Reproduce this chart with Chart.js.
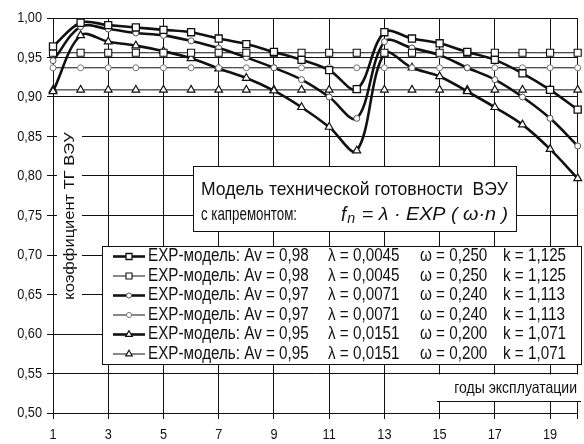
<!DOCTYPE html>
<html>
<head>
<meta charset="utf-8">
<script src="https://cdn.jsdelivr.net/npm/chart.js@4.4.1/dist/chart.umd.min.js"></script>
<style>
  html, body { margin: 0; padding: 0; background: #fff; }
  canvas { display: block; }
</style>
</head>
<body>
<canvas id="chart" width="584" height="444"></canvas>
<script>
// years of operation and axis ticks
const years = [1, 2, 3, 4, 5, 6, 7, 8, 9, 10, 11, 12, 13, 14, 15, 16, 17, 18, 19, 20];
const xTicks = [1, 3, 5, 7, 9, 11, 13, 15, 17, 19];
const yTicks = [0.50, 0.55, 0.60, 0.65, 0.70, 0.75, 0.80, 0.85, 0.90, 0.95, 1.00];

// availability, Av = 0.98 (with overhaul at year 13 / without)
const avSquareRepair = [0.964, 0.994, 0.991, 0.988, 0.985, 0.982, 0.974, 0.967, 0.957, 0.947,
                        0.934, 0.910, 0.982, 0.974, 0.968, 0.957, 0.947, 0.930, 0.909, 0.884];
const avSquareFlat = [0.956, 0.956, 0.956, 0.956, 0.956, 0.956, 0.956, 0.956, 0.956, 0.956,
                      0.956, 0.956, 0.956, 0.956, 0.956, 0.956, 0.956, 0.956, 0.956, 0.956];
// Av = 0.97
const avCircleRepair = [0.946, 0.989, 0.986, 0.981, 0.978, 0.971, 0.962, 0.950, 0.937, 0.922,
                        0.900, 0.873, 0.970, 0.962, 0.953, 0.937, 0.922, 0.900, 0.873, 0.838];
const avCircleFlat = [0.937, 0.937, 0.937, 0.937, 0.937, 0.937, 0.937, 0.937, 0.937, 0.937,
                      0.937, 0.937, 0.937, 0.937, 0.937, 0.937, 0.937, 0.937, 0.937, 0.937];
// Av = 0.95
const avTriangleRepair = [0.907, 0.978, 0.970, 0.965, 0.958, 0.949, 0.936, 0.924, 0.908, 0.887,
                          0.862, 0.832, 0.955, 0.937, 0.926, 0.907, 0.887, 0.865, 0.834, 0.797];
const avTriangleFlat = [0.909, 0.909, 0.909, 0.909, 0.909, 0.909, 0.909, 0.909, 0.909, 0.909,
                        0.909, 0.909, 0.909, 0.909, 0.909, 0.909, 0.909, 0.909, 0.909, 0.909];

// model parameters shown in the legend
const avParams = [0.98, 0.98, 0.97, 0.97, 0.95, 0.95];
const lambdaParams = [0.0045, 0.0045, 0.0071, 0.0071, 0.0151, 0.0151];
const omegaParams = [0.250, 0.250, 0.240, 0.240, 0.200, 0.200];
const kParams = [1.125, 1.125, 1.113, 1.113, 1.071, 1.071];

const FONT = '"Liberation Sans", Arial, sans-serif';
const comma = (v, d) => v.toFixed(d).replace('.', ',');

function toPoints(arr) {
    return arr.map((v, i) => ({ x: years[i], y: v }));
}

// narrow text, like the condensed face of the original plot
function narrowText(ctx, text, x, y, size, sx, align, style) {
    ctx.save();
    ctx.font = (style || '') + ' ' + size + 'px ' + FONT;
    ctx.textBaseline = 'middle';
    ctx.textAlign = align || 'left';
    ctx.fillStyle = '#111';
    const w = ctx.measureText(text).width * sx;
    ctx.translate(x, y);
    ctx.scale(sx, 1);
    ctx.fillText(text, 0, 0);
    ctx.restore();
    return w;
}

function fitText(ctx, text, x, y, size, width, style) {
    ctx.save();
    ctx.font = (style || '') + ' ' + size + 'px ' + FONT;
    const sx = width / ctx.measureText(text).width;
    ctx.restore();
    return narrowText(ctx, text, x, y, size, sx, 'left', style);
}

const styles = [
    { data: avSquareRepair, pointStyle: 'rect', radius: 5, width: 2.6, pbw: 1.3, pborder: '#111' },
    { data: avSquareFlat, pointStyle: 'rect', radius: 5, width: 1, pbw: 1.1, pborder: '#111' },
    { data: avCircleRepair, pointStyle: 'circle', radius: 3, width: 2.6, pbw: 1, pborder: '#555' },
    { data: avCircleFlat, pointStyle: 'circle', radius: 3, width: 1, pbw: 1, pborder: '#777' },
    { data: avTriangleRepair, pointStyle: 'triangle', radius: 4.5, width: 2.6, pbw: 1.2, pborder: '#111' },
    { data: avTriangleFlat, pointStyle: 'triangle', radius: 4.5, width: 1, pbw: 1.1, pborder: '#111' }
];

const datasets = styles.map((s, i) => ({
    label: 'EXP-модель ' + (i + 1),
    data: toPoints(s.data),
    borderColor: '#111',
    borderWidth: s.width,
    tension: 0.35,
    pointStyle: s.pointStyle,
    pointRadius: s.radius,
    pointBorderWidth: s.pbw,
    pointBorderColor: s.pborder,
    pointBackgroundColor: '#fff',
    clip: false
}));

const overlay = {
    id: 'overlay',
    afterDraw(chart) {
        const ctx = chart.ctx;
        const xs = chart.scales.x;
        const ys = chart.scales.y;

        // tick labels
        yTicks.forEach(v => {
            narrowText(ctx, comma(v, 2), 42, ys.getPixelForValue(v), 15, 0.85, 'right');
        });
        xTicks.forEach(v => {
            narrowText(ctx, String(v), xs.getPixelForValue(v), 435, 15, 0.85, 'center');
        });

        // y axis title on a white strip
        ctx.fillStyle = '#fff';
        ctx.fillRect(57, 120, 25, 192);
        ctx.save();
        ctx.translate(70, 216);
        ctx.rotate(-Math.PI / 2);
        ctx.scale(1, 0.9);
        ctx.font = '16.5px ' + FONT;
        ctx.fillStyle = '#111';
        ctx.textAlign = 'center';
        ctx.textBaseline = 'middle';
        ctx.fillText('коэффициент ТГ ВЭУ', 0, 0);
        ctx.restore();

        // x axis title
        ctx.fillStyle = '#fff';
        ctx.fillRect(437, ys.getPixelForValue(0.55) + 1, 144, 27);
        ctx.strokeStyle = '#111';
        ctx.lineWidth = 1;
        ctx.beginPath();
        ctx.moveTo(437, 401.5);
        ctx.lineTo(581, 401.5);
        ctx.stroke();
        narrowText(ctx, 'годы эксплуатации', 577, 388, 16.5, 0.85, 'right');

        // model caption
        ctx.fillStyle = '#fff';
        ctx.fillRect(193.5, 166.5, 323, 65);
        ctx.strokeRect(193.5, 166.5, 323, 65);
        fitText(ctx, 'Модель технической готовности  ВЭУ', 201, 190, 18.5, 307);
        fitText(ctx, 'с капремонтом:', 201, 215, 18.5, 96);
        let fx = 341;
        fx += narrowText(ctx, 'f', fx, 215, 20, 0.95, 'left', 'italic');
        fx += narrowText(ctx, 'n', fx + 1, 219, 15, 0.95, 'left', 'italic') + 2;
        fitText(ctx, ' = λ · EXP ( ω·n )', fx, 215, 19, 508 - fx, 'italic');

        // legend
        ctx.fillStyle = '#fff';
        ctx.fillRect(102.5, 246.5, 479, 118);
        ctx.strokeStyle = '#111';
        ctx.strokeRect(102.5, 246.5, 479, 118);
        datasets.forEach((ds, i) => {
            const y = 256.5 + i * 19.5;
            ctx.strokeStyle = '#111';
            ctx.lineWidth = ds.borderWidth;
            ctx.beginPath();
            ctx.moveTo(113, y);
            ctx.lineTo(145, y);
            ctx.stroke();
            ctx.fillStyle = '#fff';
            ctx.strokeStyle = ds.pointBorderColor;
            ctx.lineWidth = ds.pointBorderWidth;
            Chart.helpers.drawPoint(ctx, {
                pointStyle: ds.pointStyle,
                radius: ds.pointRadius * 0.85,
                rotation: 0,
                borderWidth: ds.pointBorderWidth
            }, 129, y);
            narrowText(ctx, 'EXP-модель: Av = ' + comma(avParams[i], 2), 148, y, 17.5, 0.87);
            narrowText(ctx, 'λ = ' + comma(lambdaParams[i], 4), 328, y, 17.5, 0.87);
            narrowText(ctx, 'ω = ' + comma(omegaParams[i], 3), 420, y, 17.5, 0.87);
            narrowText(ctx, 'k = ' + comma(kParams[i], 3), 503, y, 17.5, 0.87);
        });
    }
};

new Chart(document.getElementById('chart').getContext('2d'), {
    type: 'line',
    data: { datasets },
    options: {
        responsive: false,
        animation: false,
        layout: { padding: { top: 18, right: 3, left: 0, bottom: 0 } },
        plugins: { legend: { display: false }, tooltip: { enabled: false } },
        scales: {
            x: {
                type: 'linear',
                min: 1,
                max: 20,
                afterBuildTicks: scale => {
                    scale.ticks = xTicks.concat([20]).map(v => ({ value: v }));
                },
                afterFit: scale => { scale.height = 31; },
                ticks: { display: false },
                grid: { color: '#111', lineWidth: 1, tickLength: 6 },
                border: { color: '#111', width: 1 }
            },
            y: {
                min: 0.5,
                max: 1.0,
                afterBuildTicks: scale => {
                    scale.ticks = yTicks.map(v => ({ value: v }));
                },
                afterFit: scale => { scale.width = 53; },
                ticks: { display: false },
                grid: { color: '#111', lineWidth: 1, tickLength: 6 },
                border: { color: '#111', width: 1 }
            }
        }
    },
    plugins: [overlay]
});
</script>
</body>
</html>
